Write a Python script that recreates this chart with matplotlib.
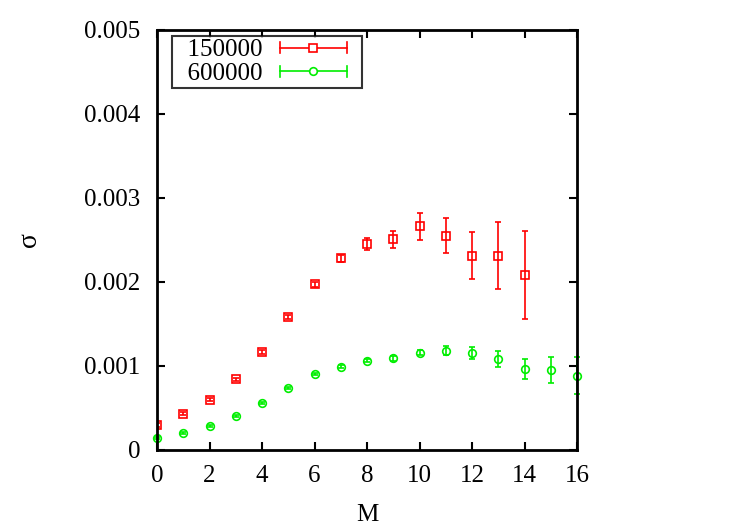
import matplotlib
matplotlib.use("Agg")
import matplotlib.pyplot as plt
from matplotlib.lines import Line2D
from matplotlib.legend_handler import HandlerBase

plt.rcParams['font.family'] = ['Liberation Serif', 'DejaVu Serif']

M_red = [0, 1, 2, 3, 4, 5, 6, 7, 8, 9, 10, 11, 12, 13, 14]
sig_red = [0.000298, 0.000432, 0.000599, 0.000841, 0.001167, 0.001583, 0.001972,
           0.002282, 0.00245, 0.00251, 0.002663, 0.002552, 0.002313, 0.002313, 0.002083]
err_red = [0.00002, 0.00002, 0.00002, 0.00002, 0.00002, 0.00002, 0.00003,
           0.00004, 0.00007, 0.0001, 0.00016, 0.00021, 0.00028, 0.0004, 0.00052]

M_green = [0, 1, 2, 3, 4, 5, 6, 7, 8, 9, 10, 11, 12, 13, 14, 15, 16]
sig_green = [0.000143, 0.000202, 0.000282, 0.000405, 0.00056, 0.000742, 0.000901,
             0.000992, 0.001063, 0.001091, 0.001159, 0.001183, 0.001151, 0.001083,
             0.00096, 0.000952, 0.000885]
err_green = [0.00001, 0.00001, 0.00001, 0.00001, 0.00001, 0.00001, 0.00001,
             0.00002, 0.00002, 0.00003, 0.00003, 0.00005, 0.00007, 0.00009,
             0.00012, 0.00016, 0.00022]

labels = ['150000', '600000']
RED = '#ff0000'
GREEN = '#00ee00'


class HErrHandler(HandlerBase):
    def __init__(self, color, marker, ms, frac):
        super().__init__()
        self.color = color
        self.marker = marker
        self.ms = ms
        self.frac = frac

    def create_artists(self, legend, orig_handle, xdescent, ydescent, width, height,
                       fontsize, trans):
        y = height / 2 - ydescent
        x0 = -xdescent
        x1 = x0 + width * self.frac
        h = height * 0.3
        line = Line2D([x0, x1], [y, y], color=self.color, lw=1.2)
        c1 = Line2D([x0, x0], [y - h, y + h], color=self.color, lw=1.2)
        c2 = Line2D([x1, x1], [y - h, y + h], color=self.color, lw=1.2)
        mk = Line2D([(x0 + x1) / 2], [y], color=self.color, marker=self.marker,
                    ms=self.ms, mfc='white', mew=1.2, ls='none')
        arts = [line, c1, c2, mk]
        for a in arts:
            a.set_transform(trans)
        return arts


fig = plt.figure(figsize=(7.5, 5.25), dpi=100)
ax = fig.add_axes([157/750, 75/525, 420/750, 420/525])

h1 = ax.errorbar(M_red, sig_red, yerr=err_red, fmt='s', color=RED, mfc='none',
                 ms=5.5, mew=1.2, elinewidth=1.2, capsize=2.2, capthick=1.2)
h2 = ax.errorbar(M_green, sig_green, yerr=err_green, fmt='o', color=GREEN, mfc='none',
                 ms=5.5, mew=1.2, elinewidth=1.2, capsize=2.2, capthick=1.2)
for a in [h2.lines[0]] + list(h2.lines[1]) + list(h2.lines[2]):
    a.set_clip_on(False)

ax.set_xlim(0, 16)
ax.set_ylim(0, 0.005)
ax.set_xticks(range(0, 17, 2))
ax.set_yticks([0, 0.001, 0.002, 0.003, 0.004, 0.005])
ax.set_yticklabels(['0', '0.001', '0.002', '0.003', '0.004', '0.005'])
ax.tick_params(direction='in', top=True, right=True, length=6, width=1.5,
               labelsize=18)
ax.tick_params(axis='y', pad=12)
ax.tick_params(axis='x', pad=11)
for s in ax.spines.values():
    s.set_linewidth(2)

ax.set_xlabel('M', fontsize=18, labelpad=12)
ax.set_ylabel('σ', fontsize=20, labelpad=30)

p1 = Line2D([], [], color=RED)
p2 = Line2D([], [], color=GREEN)
frac = 67 / 80
leg = ax.legend([p1, p2], ['  ' + s for s in labels], loc='upper left',
                bbox_to_anchor=(0.036, 0.985),
                markerfirst=False, fontsize=18, frameon=True, fancybox=False,
                edgecolor='black', handlelength=3.2, borderpad=0.1, labelspacing=0.05,
                handletextpad=0.7, borderaxespad=0,
                handler_map={p1: HErrHandler(RED, 's', 5.5, frac),
                             p2: HErrHandler(GREEN, 'o', 5.5, frac)})
leg.get_frame().set_linewidth(1.5)

fig.savefig('out.png', dpi=100)
